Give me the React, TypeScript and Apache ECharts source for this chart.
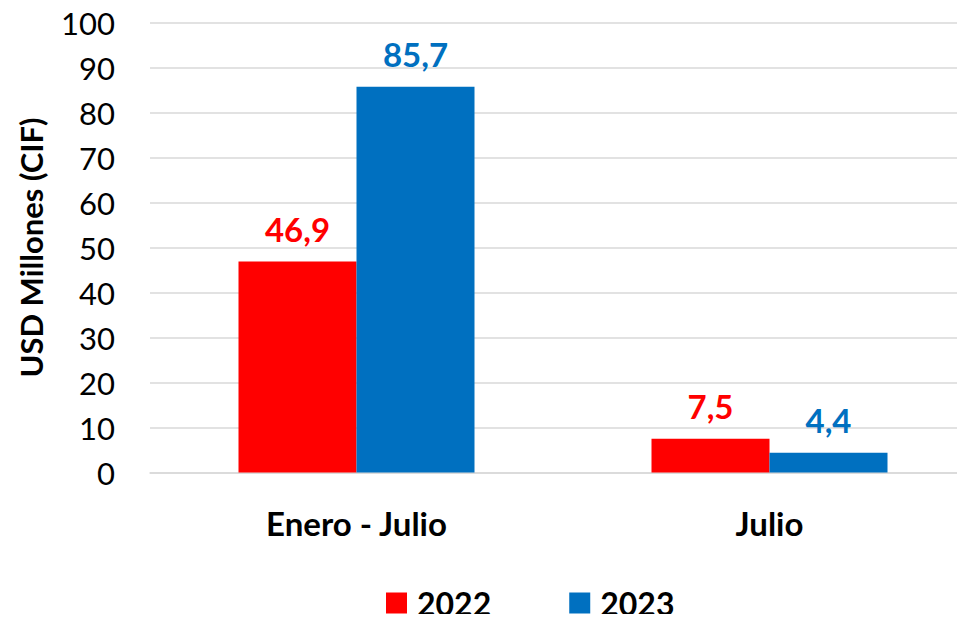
import React, { useEffect, useRef } from "react";
import * as echarts from "echarts";

const categories = ["Enero - Julio", "Julio"];
const values2022 = [46.9, 7.5];
const values2023 = [85.7, 4.4];
const seriesNames = ["2022", "2023"];
const yTicks = { min: 0, max: 100, interval: 10 };

const FONT = "Lato, 'Open Sans', sans-serif";

export default function App() {
  const ref = useRef<HTMLDivElement>(null);
  useEffect(() => {
    const chart = echarts.init(ref.current!, undefined, { renderer: "svg" });
    const fmt = (p: any) => String(p.value).replace(".", ",");
    chart.setOption({
      animation: false,
      textStyle: { fontFamily: FONT },
      grid: {
        left: 150,
        width: 826,
        top: 22.5,
        bottom: 149.5,
        containLabel: false,
        outerBoundsMode: "none",
      },
      legend: {
        data: seriesNames,
        bottom: 3,
        left: 386,
        itemWidth: 21,
        itemHeight: 21,
        itemGap: 78,
        icon: "rect",
        padding: 0,
        textStyle: {
          fontSize: 32,
          lineHeight: 26,
          fontWeight: "bold",
          color: "#000",
          fontFamily: FONT,
          padding: [0, 0, 0, 5],
        },
      },
      xAxis: {
        type: "category",
        data: categories,
        axisLine: { show: true, lineStyle: { color: "#D9D9D9", width: 1.5 } },
        axisTick: { show: false },
        axisLabel: { fontSize: 33, fontWeight: "bold", color: "#000", margin: 34, fontFamily: FONT },
      },
      yAxis: {
        type: "value",
        min: yTicks.min,
        max: yTicks.max,
        interval: yTicks.interval,
        name: "USD Millones (CIF)",
        nameLocation: "middle",
        nameGap: 104,
        nameRotate: 90,
        nameTextStyle: { fontSize: 31, fontWeight: "bold", color: "#000", fontFamily: FONT },
        axisLine: { show: false },
        axisTick: { show: false },
        axisLabel: { fontSize: 31, color: "#000", margin: 35, fontFamily: FONT },
        splitLine: { lineStyle: { color: "#D9D9D9", width: 1.5 } },
      },
      series: [
        {
          name: seriesNames[0],
          type: "bar",
          data: values2022,
          barWidth: 118,
          barGap: "0%",
          itemStyle: { color: "#FF0000" },
          label: {
            show: true,
            position: "top",
            distance: 16,
            formatter: fmt,
            fontSize: 33,
            fontWeight: "bold",
            color: "#FF0000",
            fontFamily: FONT,
          },
        },
        {
          name: seriesNames[1],
          type: "bar",
          data: values2023,
          barWidth: 118,
          barGap: "0%",
          itemStyle: { color: "#0070C0" },
          label: {
            show: true,
            position: "top",
            distance: 16,
            formatter: fmt,
            fontSize: 33,
            fontWeight: "bold",
            color: "#0070C0",
            fontFamily: FONT,
          },
        },
      ],
    });
    return () => chart.dispose();
  }, []);
  return <div ref={ref} style={{ width: 965, height: 622, margin: -8 }} />;
}
